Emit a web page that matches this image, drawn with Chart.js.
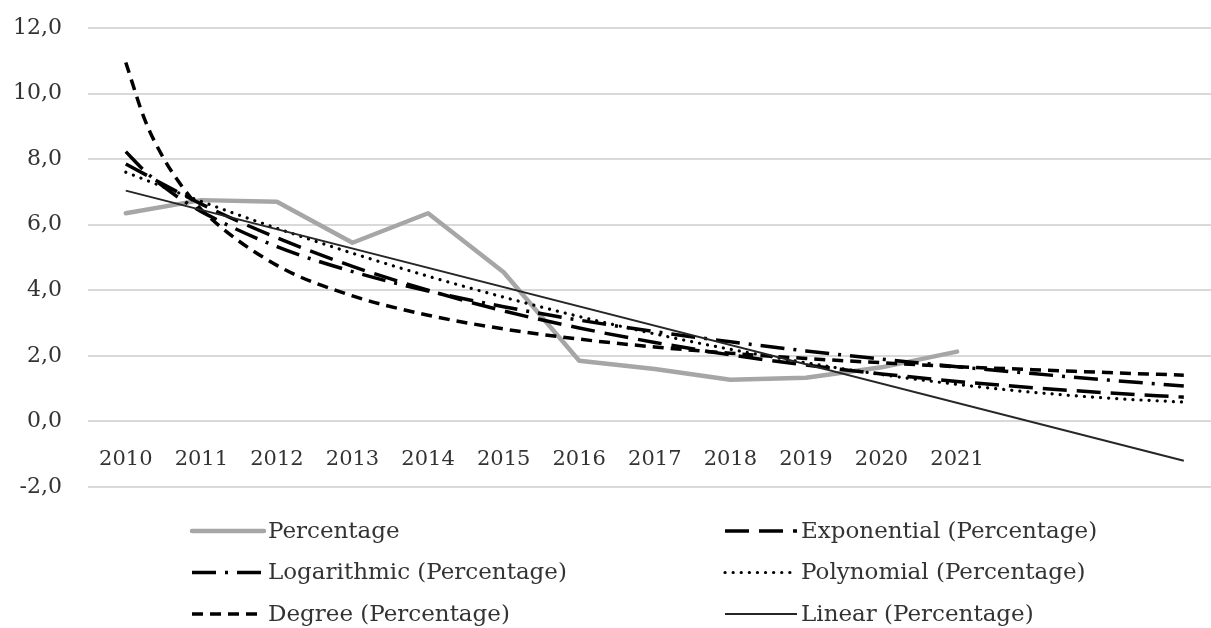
<!DOCTYPE html>
<html>
<head>
<meta charset="utf-8">
<script src="https://cdn.jsdelivr.net/npm/chart.js@4"></script>
<style>
  html, body { margin: 0; padding: 0; background: #fff; }
</style>
</head>
<body>
<canvas id="chart" width="1211" height="628"></canvas>
<script>
const years = ['2010', '2011', '2012', '2013', '2014', '2015', '2016', '2017', '2018', '2019', '2020', '2021'];
const percentage = [6.35, 6.75, 6.70, 5.45, 6.35, 4.55, 1.85, 1.60, 1.27, 1.33, 1.65, 2.13];

// trendlines run three steps past 2021 (forecast)
const trendX = [0, 1, 2, 3, 4, 5, 6, 7, 8, 9, 10, 11, 12, 13, 14];
const exponential = [7.85, 6.63, 5.60, 4.73, 4.00, 3.37, 2.85, 2.41, 2.03, 1.72, 1.45, 1.22, 1.03, 0.87, 0.74];
const polynomial = [7.60, 6.71, 5.89, 5.13, 4.43, 3.79, 3.20, 2.67, 2.20, 1.79, 1.43, 1.13, 0.89, 0.71, 0.59];

// log and power bend hard at the start, extra readings there
const curveX = [0, 0.25, 0.5, 0.75, 1, 2, 3, 4, 5, 6, 7, 8, 9, 10, 11, 12, 13, 14];
const logarithmic = [8.23, 7.64, 7.16, 6.75, 6.40, 5.33, 4.57, 3.98, 3.50, 3.09, 2.74, 2.43, 2.15, 1.90, 1.67, 1.46, 1.26, 1.08];
const degree = [10.95, 9.21, 8.03, 7.15, 6.46, 4.76, 3.83, 3.24, 2.82, 2.51, 2.27, 2.08, 1.92, 1.79, 1.67, 1.58, 1.49, 1.41];

const linearX = [0, 14];
const linear = [7.04, -1.20];

const FONT = '"DejaVu Serif", serif';
const TEXT = '#333333';

function pts(xs, ys) {
    return ys.map((y, i) => ({ x: xs[i], y: y }));
}

// legend in two columns like the Excel one
const twoColLegend = {
    id: 'twoColLegend',
    afterDraw(chart) {
        const ctx = chart.ctx;
        const cols = [192, 725];
        const rows = [531, 572.5, 614];
        ctx.save();
        ctx.font = '23px ' + FONT;
        ctx.textBaseline = 'middle';
        chart.data.datasets.forEach((ds, k) => {
            const x = cols[k % 2];
            const y = rows[Math.floor(k / 2)];
            ctx.beginPath();
            ctx.setLineDash(ds.borderDash || []);
            ctx.lineWidth = ds.borderWidth;
            ctx.strokeStyle = ds.borderColor;
            ctx.lineCap = ds.borderCapStyle || 'butt';
            ctx.moveTo(x, y);
            ctx.lineTo(x + 72, y);
            ctx.stroke();
            ctx.setLineDash([]);
            ctx.fillStyle = TEXT;
            ctx.fillText(ds.label, x + 76, y + 1);
        });
        ctx.restore();
    }
};

const ctx = document.getElementById('chart').getContext('2d');

new Chart(ctx, {
    type: 'line',
    data: {
        datasets: [
            {
                label: 'Percentage',
                data: pts(trendX, percentage),
                borderColor: '#a6a6a6',
                borderWidth: 4.5,
                borderCapStyle: 'round',
                borderJoinStyle: 'round',
                tension: 0,
                order: 10
            },
            {
                label: 'Exponential (Percentage)',
                data: pts(trendX, exponential),
                borderColor: '#000000',
                borderWidth: 3.5,
                borderDash: [24, 10],
                cubicInterpolationMode: 'monotone',
                order: 2
            },
            {
                label: 'Logarithmic (Percentage)',
                data: pts(curveX, logarithmic),
                borderColor: '#000000',
                borderWidth: 3.5,
                borderDash: [24, 9, 3, 9],
                cubicInterpolationMode: 'monotone',
                order: 3
            },
            {
                label: 'Polynomial (Percentage)',
                data: pts(trendX, polynomial),
                borderColor: '#000000',
                borderWidth: 3.2,
                borderDash: [0.1, 8],
                borderCapStyle: 'round',
                cubicInterpolationMode: 'monotone',
                order: 4
            },
            {
                label: 'Degree (Percentage)',
                data: pts(curveX, degree),
                borderColor: '#000000',
                borderWidth: 3.5,
                borderDash: [11, 7],
                cubicInterpolationMode: 'monotone',
                order: 5
            },
            {
                label: 'Linear (Percentage)',
                data: pts(linearX, linear),
                borderColor: '#262626',
                borderWidth: 2,
                order: 1
            }
        ]
    },
    options: {
        responsive: false,
        animation: false,
        layout: { padding: { top: 28, bottom: 141, left: 0, right: 0 } },
        elements: { point: { radius: 0 } },
        plugins: {
            legend: { display: false },
            tooltip: { enabled: false }
        },
        scales: {
            x: {
                type: 'linear',
                position: { y: 0 },
                min: -0.5,
                max: 14.36,
                grid: { display: false, drawTicks: false },
                border: { display: false },
                afterBuildTicks: s => { s.ticks = years.map((_, i) => ({ value: i })); },
                ticks: {
                    autoSkip: false,
                    maxRotation: 0,
                    padding: 26,
                    font: { family: FONT, size: 21 },
                    color: TEXT,
                    callback: v => years[v]
                }
            },
            y: {
                min: -2,
                max: 12,
                afterFit: s => {
                    s.width = 88;
                    // tick padding is horizontal here, don't let it push the top down
                    s.paddingTop = 14;
                    s.paddingBottom = 14;
                },
                grid: { color: '#d9d9d9', lineWidth: 2, drawTicks: false },
                border: { display: false },
                ticks: {
                    stepSize: 2,
                    padding: 26,
                    font: { family: FONT, size: 22 },
                    color: TEXT,
                    callback: v => v.toFixed(1).replace('.', ',')
                }
            }
        }
    },
    plugins: [twoColLegend]
});
</script>
</body>
</html>
